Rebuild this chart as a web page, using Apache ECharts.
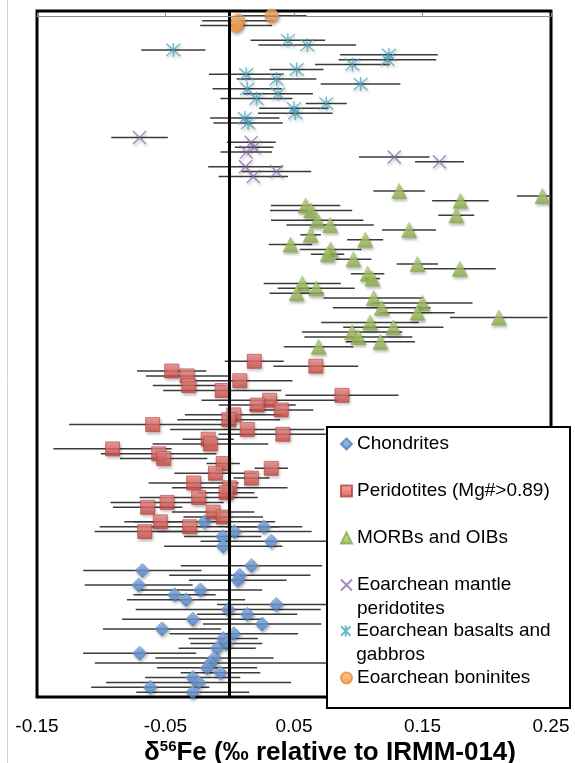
<!DOCTYPE html>
<html><head><meta charset="utf-8">
<script src="https://cdn.jsdelivr.net/npm/echarts@6/dist/echarts.min.js"></script>
<style>html,body{margin:0;padding:0;background:#fff}#c{width:575px;height:763px}</style>
</head><body><div id="c"></div><script>
// ---- data (x = δ56Fe ‰, row = vertical sample slot, err = ± error) ----
const xTicks = ['-0.15', '-0.05', '0.05', '0.15', '0.25'];
const legendNames = ['Chondrites', 'Peridotites (Mg#>0.89)', 'MORBs and OIBs', 'Eoarchean mantle\nperidotites', 'Eoarchean basalts and\ngabbros', 'Eoarchean boninites'];

const boniniteX = [0.0327, 0.0065, 0.0050];
const boniniteRow = [0, 1, 2];
const boniniteErr = [0.027, 0.028, 0.028];

const basaltX = [0.0452, 0.0603, -0.0439, 0.1239, 0.1227, 0.0954, 0.0520, 0.0128, 0.0364, 0.1018, 0.0136, 0.0377, 0.0208, 0.0751, 0.0499, 0.0510, 0.0117, 0.0143];
const basaltRow = [5, 6, 7, 8, 9, 10, 11, 12, 13, 14, 15, 16, 17, 18, 19, 20, 21, 22];
const basaltErr = [0.029, 0.038, 0.025, 0.038, 0.038, 0.029, 0.021, 0.029, 0.031, 0.031, 0.027, 0.027, 0.028, 0.016, 0.027, 0.029, 0.027, 0.027];

const mantleX = [-0.0702, 0.0167, 0.0190, 0.0129, 0.1280, 0.1632, 0.0122, 0.0364, 0.0183];
const mantleRow = [25, 26, 27, 28, 29, 30, 31, 32, 33];
const mantleErr = [0.022, 0.019, 0.015, 0.020, 0.0275, 0.019, 0.029, 0.027, 0.027];

const morbX = [0.1318, 0.2434, 0.1795, 0.0590, 0.0633, 0.1763, 0.0681, 0.0781, 0.1395, 0.0629, 0.1054, 0.0473, 0.0785, 0.0761, 0.0962, 0.1460, 0.1790, 0.1073, 0.1110, 0.0564, 0.0673, 0.0520, 0.1120, 0.1499, 0.1182, 0.1460, 0.2094, 0.1092, 0.1273, 0.0952, 0.1001, 0.1172, 0.0691];
const morbRow = [36, 37, 38, 39, 40, 41, 42, 43, 44, 45, 46, 47, 48, 49, 50, 51, 52, 53, 54, 55, 56, 57, 58, 59, 60, 61, 62, 63, 64, 65, 66, 67, 68];
const morbErr = [0.020, 0.020, 0.022, 0.027, 0.032, 0.014, 0.036, 0.034, 0.021, 0.008, 0.014, 0.017, 0.024, 0.013, 0.014, 0.016, 0.028, 0.013, 0.006, 0.030, 0.030, 0.021, 0.039, 0.039, 0.038, 0.029, 0.038, 0.038, 0.039, 0.039, 0.042, 0.027, 0.027];

const peridX = [0.0191, 0.0670, -0.0452, -0.0332, 0.0078, -0.0319, -0.0059, 0.0873, 0.0310, 0.0214, 0.0401, 0.0031, -0.0008, -0.0600, 0.0136, 0.0413, -0.0168, -0.0150, -0.0912, -0.0553, -0.0514, -0.0051, 0.0323, -0.0111, 0.0169, -0.0281, 0.0000, -0.0028, -0.0242, -0.0488, -0.0639, -0.0129, -0.0051, -0.0540, -0.0312, -0.0662];
const peridRow = [71, 72, 73, 74, 75, 76, 77, 78, 79, 80, 81, 82, 83, 84, 85, 86, 87, 88, 89, 90, 91, 92, 93, 94, 95, 96, 97, 98, 99, 100, 101, 102, 103, 104, 105, 106];
const peridErr = [0.023, 0.033, 0.027, 0.032, 0.041, 0.028, 0.046, 0.044, 0.053, 0.030, 0.025, 0.038, 0.040, 0.065, 0.060, 0.050, 0.020, 0.045, 0.046, 0.045, 0.034, 0.013, 0.013, 0.032, 0.014, 0.035, 0.045, 0.022, 0.046, 0.044, 0.027, 0.032, 0.031, 0.028, 0.070, 0.039];

const chondX = [-0.0197, 0.0265, 0.0037, -0.0055, 0.0323, -0.0051, 0.0169, -0.0680, 0.0078, 0.0062, -0.0709, -0.0228, -0.0429, -0.0340, 0.0362, -0.0012, 0.0136, -0.0288, 0.0252, -0.0527, 0.0031, -0.0051, -0.0026, -0.0098, -0.0701, -0.0119, -0.0150, -0.0176, -0.0072, -0.0288, -0.0242, -0.0618, -0.0288];
const chondRow = [104, 105, 106, 107, 108, 109, 113, 114, 115, 116, 117, 118, 119, 120, 121, 122, 123, 124, 125, 126, 127, 128, 129, 130, 131, 132, 133, 134, 135, 136, 137, 138, 139];
const chondErr = [0.055, 0.030, 0.060, 0.030, 0.055, 0.046, 0.055, 0.046, 0.055, 0.038, 0.042, 0.048, 0.032, 0.046, 0.046, 0.072, 0.039, 0.055, 0.046, 0.046, 0.050, 0.027, 0.028, 0.030, 0.044, 0.046, 0.090, 0.039, 0.031, 0.037, 0.072, 0.046, 0.044];

// ---- chart ----
const FONT = '"Liberation Sans", Arial, Helvetica, sans-serif';
function grad(top, bottom) {
  return { type: 'linear', x: 0, y: 0, x2: 0, y2: 1, colorStops: [{ offset: 0, color: top }, { offset: 1, color: bottom }] };
}
const shadow = { shadowBlur: 3, shadowOffsetX: 1, shadowOffsetY: 2, shadowColor: 'rgba(0,0,0,0.35)' };
const groups = [
  { name: legendNames[0], x: chondX, row: chondRow, err: chondErr, symbol: 'diamond', size: 14,
    style: Object.assign({ color: grad('#93bbee', '#4a7ec6'), borderColor: '#4f81bd', borderWidth: 0.8 }, shadow) },
  { name: legendNames[1], x: peridX, row: peridRow, err: peridErr, symbol: 'rect', size: 14,
    style: Object.assign({ color: grad('#f39490', '#cd4843'), borderColor: '#b8423e', borderWidth: 0.8 }, shadow) },
  { name: legendNames[2], x: morbX, row: morbRow, err: morbErr, symbol: 'triangle', size: 15,
    style: Object.assign({ color: grad('#c6e08e', '#8cb048'), borderColor: '#87a946', borderWidth: 0.6 }, shadow) },
  { name: legendNames[3], x: mantleX, row: mantleRow, err: mantleErr, symbol: 'path://M0,0 L13,13 M13,0 L0,13', size: 13,
    style: Object.assign({ color: 'rgba(0,0,0,0)', borderColor: '#8a6db3', borderWidth: 1.3 }, shadow) },
  { name: legendNames[4], x: basaltX, row: basaltRow, err: basaltErr, symbol: 'path://M0,0 L13,13 M13,0 L0,13 M6.5,-1 L6.5,14', size: 14,
    style: Object.assign({ color: 'rgba(0,0,0,0)', borderColor: '#45a9c5', borderWidth: 1.3 }, shadow) },
  { name: legendNames[5], x: boniniteX, row: boniniteRow, err: boniniteErr, symbol: 'circle', size: 14,
    style: Object.assign({ color: grad('#fcc07e', '#f28c30'), borderColor: '#ea8a30', borderWidth: 0.6 }, shadow) }
];

function errorBar(params, api) {
  const x = api.value(0), y = api.value(1), e = api.value(2);
  const a = api.coord([x - e, y]), b = api.coord([x + e, y]);
  return { type: 'line', shape: { x1: a[0], y1: a[1], x2: b[0], y2: b[1] },
           style: { stroke: '#3b3b3b', lineWidth: 1.5 } };
}

const series = [];
groups.forEach((g, gi) => {
  const ebar = {
    type: 'custom', name: g.name + ' err', renderItem: errorBar, clip: true, silent: true, z: 1,
    encode: { x: 0, y: 1 },
    data: g.x.map((v, i) => [v, g.row[i], g.err[i]])
  };
  if (gi === 0) {
    ebar.z = 2;
    ebar.markLine = { silent: true, symbol: ['none', 'none'], label: { show: false },
      lineStyle: { color: '#000', width: 3, type: 'solid' }, data: [{ xAxis: 0 }] };
  }
  series.push(ebar);
});
groups.forEach((g) => {
  series.push({
    type: 'scatter', name: g.name, symbol: g.symbol, symbolSize: g.size, z: 3,
    itemStyle: g.style, emphasis: { disabled: true },
    data: g.x.map((v, i) => [v, g.row[i]])
  });
});

const legendCenters = [444, 491, 538, 585, 631, 678];
const legends = groups.map((g, i) => {
  const multi = g.name.indexOf('\n') >= 0;
  const lg = {
    data: [g.name], left: 340, top: legendCenters[i] - (multi ? 36 : 12), orient: 'vertical',
    padding: 0, itemWidth: 11, itemHeight: 11, selectedMode: false, z: 12,
    itemStyle: { shadowBlur: 0, shadowOffsetX: 0, shadowOffsetY: 0, shadowColor: 'rgba(0,0,0,0)' },
    textStyle: { fontSize: 19, lineHeight: 24, color: '#000', fontFamily: FONT }
  };
  // an empty leading line keeps the first text line level with the icon
  if (multi) lg.formatter = (n) => ' \n' + n;
  return lg;
});

const chart = echarts.init(document.getElementById('c'), null, { renderer: 'canvas' });
chart.setOption({
  animation: false,
  backgroundColor: '#fff',
  grid: { left: 37, right: 24, top: 11, bottom: 66, outerBoundsMode: 'none', containLabel: false,
    show: true, borderColor: '#000', borderWidth: 3, backgroundColor: 'rgba(0,0,0,0)' },
  xAxis: {
    type: 'value', min: -0.15, max: 0.25, interval: 0.1, offset: 2, z: 11,
    axisLine: { show: true, lineStyle: { color: '#8a8a8a', width: 1 } },
    axisTick: { show: true, inside: true, length: 3, lineStyle: { color: '#8a8a8a' } },
    splitLine: { show: false },
    axisLabel: { fontSize: 19, color: '#000', fontFamily: FONT, margin: 18,
      formatter: (v) => { const s = v.toFixed(2); return xTicks.indexOf(s) >= 0 ? s : s; } },
    name: '{d|δ}{s|56}{d|Fe (‰ relative to IRMM-014)}',
    nameLocation: 'middle', nameGap: 40, nameMoveOverlap: false,
    nameTextStyle: { padding: [0, 0, 0, 72], rich: {
      d: { fontSize: 26, fontWeight: 'bold', fontFamily: FONT, color: '#000', lineHeight: 28 },
      s: { fontSize: 15, fontWeight: 'bold', fontFamily: FONT, color: '#000', lineHeight: 28, verticalAlign: 'top' } } }
  },
  yAxis: { type: 'value', min: -1, max: 140, inverse: true, show: false, splitLine: { show: false } },
  legend: legends,
  graphic: [
    { type: 'line', silent: true, z: 0, shape: { x1: 7.5, y1: 0, x2: 7.5, y2: 763 }, style: { stroke: '#d2d2d2', lineWidth: 1 } },
    { type: 'rect', silent: true, z: 10, shape: { x: 327, y: 427, width: 243, height: 281 }, style: { fill: '#fff', stroke: '#000', lineWidth: 2 } }
  ],
  series: series
});
</script></body></html>
